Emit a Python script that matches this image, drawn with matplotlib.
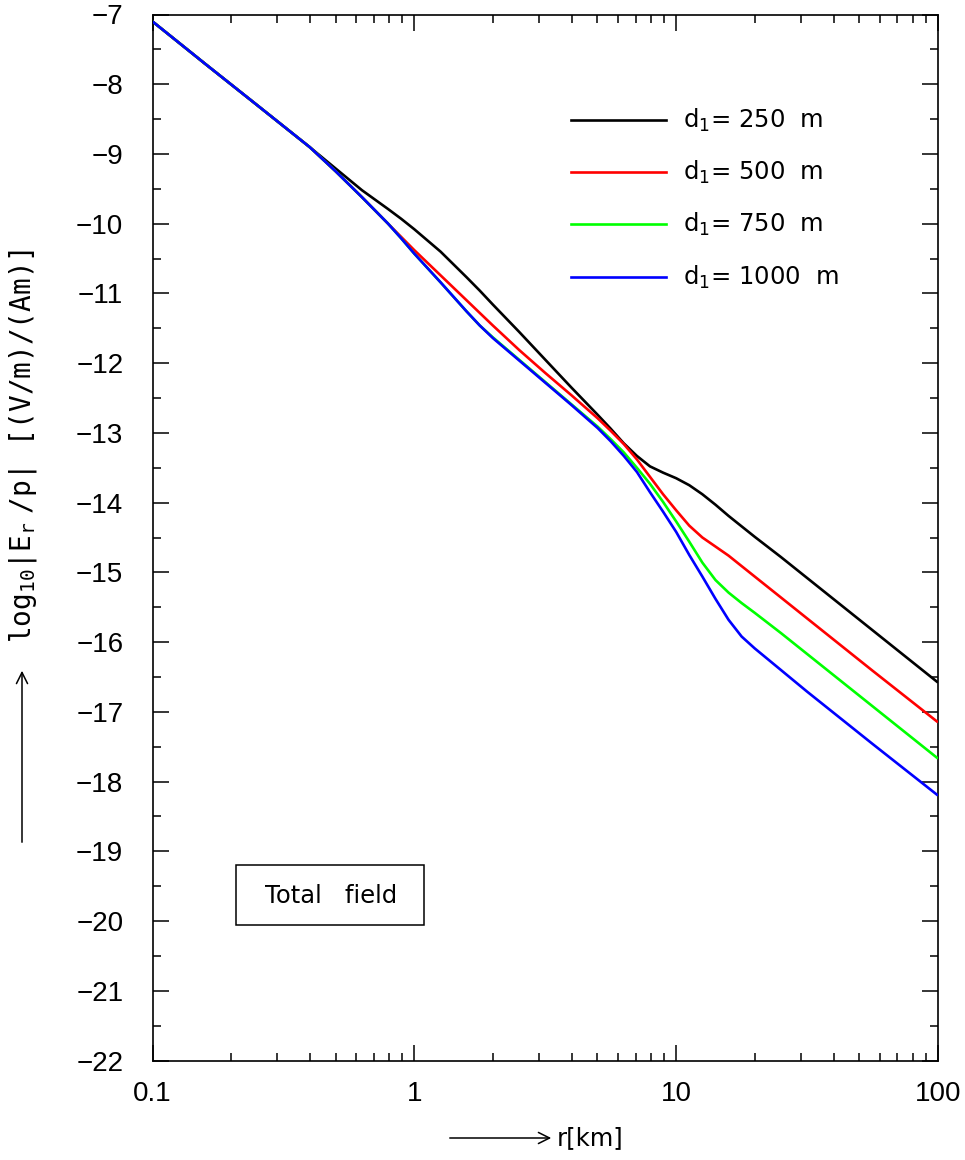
import matplotlib
matplotlib.use("Agg")
import matplotlib.pyplot as plt
from matplotlib.patches import Rectangle, FancyArrowPatch
from matplotlib.ticker import FixedLocator, NullFormatter, FixedFormatter

# ---------------- data ----------------
r_km = [0.1, 0.158, 0.251, 0.398, 0.501, 0.631, 0.794, 0.891, 1.0, 1.259,
        1.585, 1.778, 1.995, 2.512, 3.162, 3.981, 5.012, 5.623, 6.310, 7.079,
        7.943, 8.913, 10.0, 11.22, 12.59, 14.13, 15.85, 17.78, 19.95, 25.12,
        31.62, 56.23, 100.0]

E_250 = [-7.10, -7.70, -8.30, -8.90, -9.21, -9.52, -9.79, -9.93, -10.08, -10.40,
         -10.77, -10.96, -11.16, -11.55, -11.95, -12.35, -12.74, -12.94, -13.15, -13.33,
         -13.48, -13.57, -13.65, -13.75, -13.88, -14.03, -14.19, -14.34, -14.49, -14.78,
         -15.08, -15.83, -16.58]

E_500 = [-7.10, -7.70, -8.30, -8.90, -9.25, -9.62, -10.00, -10.19, -10.38, -10.74,
         -11.10, -11.28, -11.46, -11.81, -12.14, -12.46, -12.79, -12.97, -13.16, -13.38,
         -13.63, -13.88, -14.11, -14.33, -14.50, -14.63, -14.76, -14.91, -15.06, -15.36,
         -15.66, -16.41, -17.15]

E_750 = [-7.10, -7.70, -8.30, -8.90, -9.25, -9.62, -10.00, -10.21, -10.43, -10.84,
         -11.26, -11.46, -11.63, -11.95, -12.27, -12.59, -12.91, -13.09, -13.28, -13.50,
         -13.73, -13.99, -14.27, -14.56, -14.86, -15.11, -15.29, -15.44, -15.58, -15.87,
         -16.17, -16.92, -17.67]

E_1000 = [-7.10, -7.70, -8.30, -8.90, -9.25, -9.62, -10.00, -10.21, -10.43, -10.84,
          -11.26, -11.46, -11.64, -11.96, -12.28, -12.60, -12.93, -13.12, -13.33, -13.56,
          -13.85, -14.13, -14.42, -14.75, -15.06, -15.38, -15.68, -15.92, -16.09, -16.40,
          -16.71, -17.46, -18.20]

series = [E_250, E_500, E_750, E_1000]
labels = [r"d$_1$= 250  m", r"d$_1$= 500  m", r"d$_1$= 750  m", r"d$_1$= 1000  m"]
colors = ["#000000", "#ff0000", "#00ff00", "#0000ff"]

x_major = [0.1, 1, 10, 100]
x_major_labels = ["0.1", "1", "10", "100"]
x_minor = [m * d for d in (0.1, 1, 10) for m in range(2, 10)]
y_major = list(range(-22, -6))
y_minor = [v + 0.5 for v in range(-22, -7)]

# ---------------- figure ----------------
W, H = 965, 1160
fig = plt.figure(figsize=(W / 100, H / 100), dpi=100)
fig.patch.set_facecolor("white")

def fx(px):
    return px / W

def fy(py):
    return 1 - py / H

ax_l, ax_r, ax_t, ax_b = 152.5, 938.0, 14.5, 1060.5
ax = fig.add_axes([fx(ax_l), fy(ax_b), (ax_r - ax_l) / W, (ax_b - ax_t) / H])

for ys, c in zip(series, colors):
    ax.plot(r_km, ys, color=c, lw=1.9, solid_capstyle="butt",
            solid_joinstyle="round", zorder=3)

ax.set_xscale("log")
ax.set_xlim(0.1, 100)
ax.set_ylim(-22, -7)

ax.xaxis.set_major_locator(FixedLocator(x_major))
ax.xaxis.set_major_formatter(FixedFormatter(x_major_labels))
ax.xaxis.set_minor_locator(FixedLocator(x_minor))
ax.xaxis.set_minor_formatter(NullFormatter())
ax.yaxis.set_major_locator(FixedLocator(y_major))
ax.yaxis.set_minor_locator(FixedLocator(y_minor))
ax.yaxis.set_major_formatter(FixedFormatter([f"\u2212{abs(v)}" for v in y_major]))

ax.tick_params(which="both", direction="in", top=True, right=True, width=1.1, color="black")
ax.tick_params(which="major", length=11.5)
ax.tick_params(which="minor", length=5.8)
ax.tick_params(axis="x", which="major", pad=15)
ax.tick_params(axis="y", which="major", pad=21)
for lab in ax.get_xticklabels() + ax.get_yticklabels():
    lab.set_fontfamily("Liberation Sans")
    lab.set_fontsize(20)
for sp in ax.spines.values():
    sp.set_linewidth(1.2)

text_kw = dict(family="DejaVu Sans", size=17.5, color="black")

# legend (drawn manually)
leg_rows = [120, 172, 224, 277]
for py, lab, c in zip(leg_rows, labels, colors):
    fig.add_artist(plt.Line2D([fx(571), fx(666)], [fy(py), fy(py)], color=c, lw=1.9))
    fig.text(fx(683), fy(py), lab, ha="left", va="center", **text_kw)

# Total field box
fig.add_artist(Rectangle((fx(236), fy(925)), fx(424) - fx(236), fy(865) - fy(925),
                         transform=fig.transFigure, fc="white", ec="black", lw=1.1))
fig.text(fx(331), fy(896), "Total   field", ha="center", va="center", **text_kw)

# x label with arrow
fig.add_artist(FancyArrowPatch((fx(447), fy(1138)), (fx(554), fy(1138)),
               transform=fig.transFigure, arrowstyle="->,head_length=8,head_width=4",
               lw=1.1, color="black", mutation_scale=1))
fig.text(fx(557), fy(1138), "r[km]", ha="left", va="center", **text_kw)

# y label with arrow
fig.add_artist(FancyArrowPatch((fx(22), fy(845)), (fx(22), fy(668)),
               transform=fig.transFigure, arrowstyle="->,head_length=8,head_width=4",
               lw=1.1, color="black", mutation_scale=1))
fig.text(fx(23), fy(446), r"$\mathtt{log_{10}|E_r\ /p|\ \ [(V/m)/(Am)]}$",
         ha="center", va="center", rotation=90, size=20, color="black")

fig.savefig("out.png", dpi=100, facecolor="white")
